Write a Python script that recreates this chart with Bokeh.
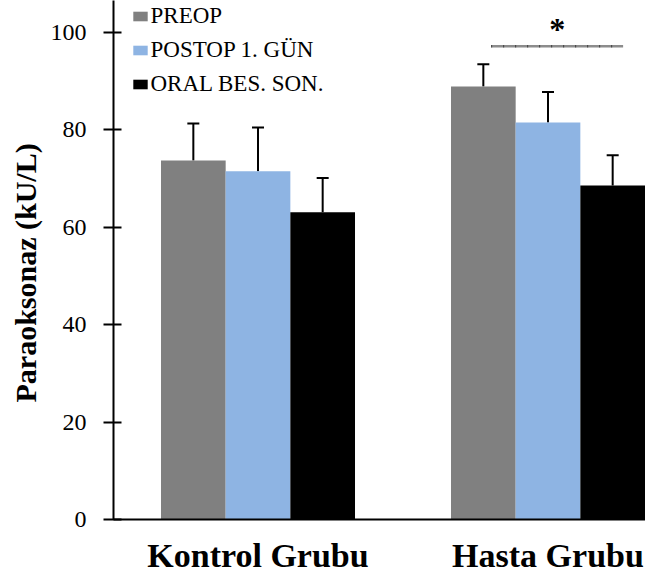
from bokeh.plotting import figure
from bokeh.models import (ColumnDataSource, Whisker, TeeHead, Legend,
                          LegendItem, FixedTicker, Range1d, Title)
from bokeh.core.properties import value
from bokeh.embed import file_html
from bokeh.resources import INLINE

# ---------------- data ----------------
groups = ["Kontrol Grubu", "Hasta Grubu"]
series = ["PREOP", "POSTOP 1. GÜN", "ORAL BES. SON."]
colors = ["#808080", "#8eb4e3", "#000000"]

preop_mean = [73.7, 88.9]
preop_sd = [7.6, 4.6]
postop_mean = [71.5, 81.5]
postop_sd = [9.0, 6.3]
oral_mean = [63.1, 68.6]
oral_sd = [7.0, 6.2]

y_ticks = [0, 20, 40, 60, 80, 100]
y_label = "Paraoksonaz (kU/L)"
sig_text = "*"
sig_span = [1.804, 2.259]   # Hasta Grubu: PREOP vs ORAL BES. SON.
sig_level = 97.2

# ---------------- layout ----------------
group_x = [1, 2]
bw = 0.223
offsets = [-bw, 0.0, bw]

p = figure(width=645, height=579,
           x_range=Range1d(0.5017, 2.3362), y_range=Range1d(0, 106.57),
           output_backend="svg", toolbar_location=None,
           min_border_left=113, min_border_right=0,
           min_border_top=0, min_border_bottom=60)
p.xgrid.visible = False
p.ygrid.visible = False
p.outline_line_color = None
p.background_fill_color = "white"

means = [preop_mean, postop_mean, oral_mean]
sds = [preop_sd, postop_sd, oral_sd]

items = []
for name, m, s, c, off in zip(series, means, sds, colors, offsets):
    src = ColumnDataSource(dict(
        x=[g + off for g in group_x],
        top=m,
        upper=[a + b for a, b in zip(m, s)],
    ))
    r = p.vbar(x="x", top="top", width=bw, source=src,
               fill_color=c, line_color=None)
    items.append(LegendItem(label=name, renderers=[r]))
    w = Whisker(source=src, base="x", lower="top", upper="upper",
                upper_head=TeeHead(size=12, line_width=2, line_color="black"),
                lower_head=None, line_width=2, line_color="black")
    p.add_layout(w)

legend = Legend(items=items, location=(17.5, 422),
                glyph_width=18, glyph_height=12, label_height=26,
                spacing=8, padding=0, margin=0, label_standoff=2,
                label_text_font="Liberation Serif", label_text_font_size="23px",
                label_text_color="black",
                border_line_alpha=0, background_fill_alpha=0)
p.add_layout(legend)

# significance marker
p.line(x=sig_span, y=[sig_level, sig_level], line_color="#8c8c8c", line_width=2.5)
p.line(x=sig_span, y=[sig_level, sig_level], line_color="#404040",
       line_width=2.5, line_dash="1 11")
p.text(x=[sum(sig_span) / 2], y=[sig_level + 3.5], text=[sig_text],
       text_font=value("Liberation Serif"), text_font_style="bold",
       text_font_size="32px", text_align="center", text_baseline="alphabetic",
       text_color="black")

# y axis
p.yaxis.ticker = FixedTicker(ticks=y_ticks)
p.yaxis.major_label_text_font = "Liberation Serif"
p.yaxis.major_label_text_font_size = "24px"
p.yaxis.major_label_text_font_style = "normal"
p.yaxis.major_label_text_color = "black"
p.yaxis.axis_line_width = 2
p.yaxis.axis_line_color = "black"
p.yaxis.major_tick_line_width = 2
p.yaxis.major_tick_line_color = "black"
p.yaxis.major_tick_in = 8
p.yaxis.major_tick_out = 10
p.yaxis.minor_tick_in = 0
p.yaxis.minor_tick_out = 0
p.yaxis.major_label_standoff = 17

# x axis (category names as tick labels)
p.xaxis.ticker = FixedTicker(ticks=group_x)
p.xaxis.major_label_overrides = {g: name for g, name in zip(group_x, groups)}
p.xaxis.major_label_text_font = "Liberation Serif"
p.xaxis.major_label_text_font_style = "bold"
p.xaxis.major_label_text_font_size = "34px"
p.xaxis.major_label_text_color = "black"
p.xaxis.major_label_standoff = 17
p.xaxis.axis_line_width = 2
p.xaxis.axis_line_color = "black"
p.xaxis.major_tick_in = 0
p.xaxis.major_tick_out = 0
p.xaxis.minor_tick_in = 0
p.xaxis.minor_tick_out = 0

# y axis title
p.add_layout(Title(text=y_label, align="left", offset=117,
                   vertical_align="bottom", standoff=11,
                   text_font="Liberation Serif", text_font_style="bold",
                   text_font_size="30px", text_color="black"), "left")

open("out.html", "w").write(file_html(p, INLINE))
